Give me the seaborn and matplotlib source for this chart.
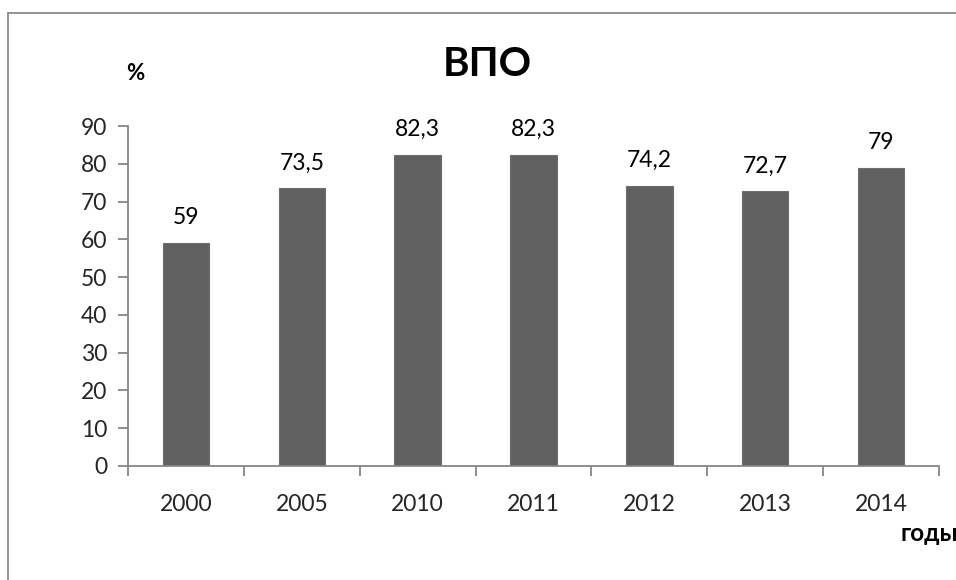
import matplotlib
matplotlib.use("Agg")
import matplotlib.pyplot as plt
import seaborn as sns
import pandas as pd
from matplotlib.lines import Line2D

years = ["2000", "2005", "2010", "2011", "2012", "2013", "2014"]
values = [59, 73.5, 82.3, 82.3, 74.2, 72.7, 79]
value_labels = ["59", "73,5", "82,3", "82,3", "74,2", "72,7", "79"]
yticks = [0, 10, 20, 30, 40, 50, 60, 70, 80, 90]

sns.set_theme(style="white")
plt.rcParams["font.family"] = ["Lato", "DejaVu Sans"]

W, H = 956, 580
fig = plt.figure(figsize=(W / 100, H / 100), dpi=100)
ax = fig.add_axes([128 / W, 114 / H, (939 - 128) / W, (466 - 126) / H])

df = pd.DataFrame({"year": years, "value": values})
sns.barplot(data=df, x="year", y="value", color="#606060", saturation=1,
            width=0.4, ax=ax, edgecolor="#6e6e6e", linewidth=0.8)

ax.set_ylim(0, 90)
ax.set_xlim(-0.5, len(years) - 0.5)
ax.set_yticks(yticks)
ax.set_yticklabels([str(t) for t in yticks])
ax.set_xlabel("")
ax.set_ylabel("")

for s in ["top", "right"]:
    ax.spines[s].set_visible(False)
for s in ["left", "bottom"]:
    ax.spines[s].set_color("#868686")
    ax.spines[s].set_linewidth(1.3)

ax.tick_params(axis="y", length=7, width=1.3, color="#868686", direction="out",
               labelsize=16.5, pad=8, left=True)
ax.tick_params(axis="x", length=0, labelsize=16.5, pad=20, bottom=True)

# category boundary ticks on the x axis
ax.set_xticks([i - 0.5 for i in range(len(years) + 1)], minor=True)
ax.tick_params(axis="x", which="minor", length=7, width=1.3, color="#868686",
               direction="out", bottom=True)

for i, (v, lab) in enumerate(zip(values, value_labels)):
    ax.annotate(lab, (i, v), xytext=(0, 13.5), textcoords="offset points",
                ha="center", va="baseline", fontsize=16.5, color="black")

fig.text(487 / W, 1 - 64 / H, "ВПО", ha="center", va="center",
         fontsize=29, fontweight="bold", color="black")
fig.text(135.5 / W, 1 - 74 / H, "%", ha="center", va="center",
         fontsize=16, fontweight="bold", color="black")
fig.text(901 / W, 1 - 541 / H, "годы", ha="left", va="baseline",
         fontsize=17.5, fontweight="bold", color="black")

# outer chart frame
fig.add_artist(Line2D([8 / W, 8 / W], [0, 1 - 13 / H], transform=fig.transFigure,
                      color="#8a8a8a", linewidth=1.3))
fig.add_artist(Line2D([8 / W, 1], [1 - 13 / H, 1 - 13 / H], transform=fig.transFigure,
                      color="#8a8a8a", linewidth=1.3))

fig.savefig("out.png", dpi=100, facecolor="white")
